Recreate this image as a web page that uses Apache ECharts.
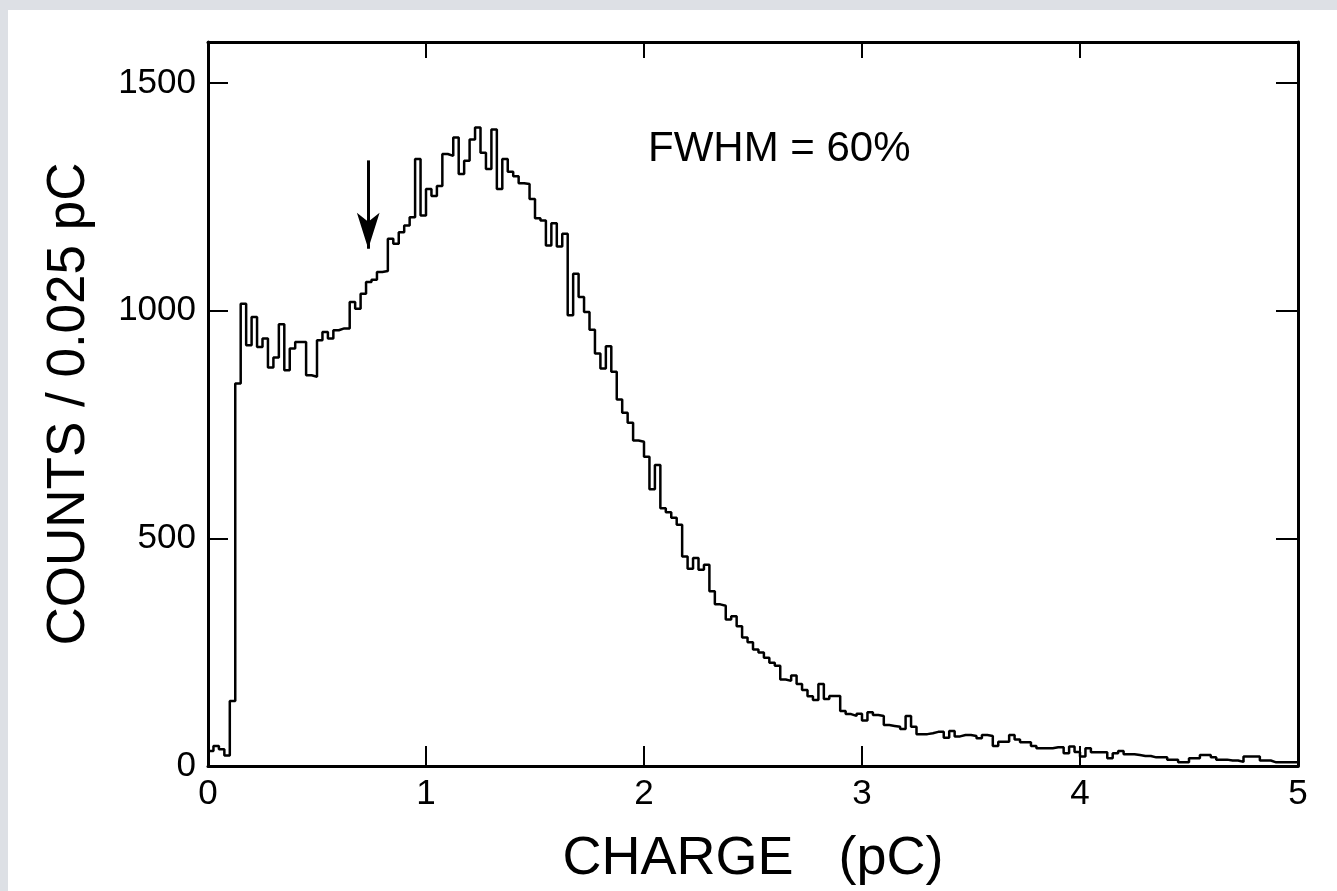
<!DOCTYPE html>
<html>
<head>
<meta charset="utf-8">
<script src="https://cdn.jsdelivr.net/npm/echarts@6/dist/echarts.min.js"></script>
<style>
  html, body { margin: 0; padding: 0; background: #dde0e5; }
  #paper { position: absolute; left: 8px; top: 10px; width: 1329px; height: 881px; background: #ffffff; }
  #chart { position: absolute; left: 0; top: 0; width: 1337px; height: 891px; }
</style>
</head>
<body>
<div id="paper"></div>
<div id="chart"></div>
<script>
// ---- data ----
const binWidth = 0.025;            // pC per bin
const counts = [
  33, 44, 37, 23, 143, 840, 1015, 924, 986, 920,
  939, 875, 897, 970, 869, 917, 931, 931, 858, 855,
  935, 953, 939, 957, 961, 961, 1019, 1004, 1037, 1063,
  1068, 1085, 1087, 1158, 1147, 1172, 1187, 1205, 1333, 1209,
  1267, 1252, 1274, 1344, 1340, 1380, 1300, 1329, 1376, 1402,
  1347, 1311, 1398, 1267, 1333, 1305, 1295, 1280, 1278, 1245,
  1203, 1198, 1143, 1192, 1141, 1169, 990, 1081, 1030, 997,
  958, 906, 873, 922, 866, 805, 776, 754, 715, 712,
  679, 608, 661, 566, 557, 545, 530, 460, 433, 457,
  431, 442, 384, 355, 352, 322, 329, 307, 282, 272,
  256, 249, 238, 227, 220, 190, 187, 199, 180, 167,
  153, 145, 180, 147, 154, 154, 121, 114, 110, 115,
  100, 118, 112, 110, 90, 88, 86, 81, 110, 86,
  70, 70, 72, 75, 75, 62, 77, 65, 68, 68,
  66, 61, 68, 66, 44, 53, 53, 68, 58, 52,
  52, 44, 39, 39, 39, 41, 41, 28, 43, 31,
  21, 39, 30, 30, 30, 17, 28, 33, 26, 26,
  24, 22, 22, 19, 19, 19, 14, 14, 8, 8,
  17, 17, 24, 24, 19, 14, 14, 12, 12, 9,
  21, 21, 21, 12, 12, 8, 8, 8, 8, 8
];
const xTickValues = [0, 1, 2, 3, 4, 5];
const yTickValues = [0, 500, 1000, 1500];
const xName = 'CHARGE   (pC)';
const yName = 'COUNTS / 0.025 pC';
const annotationText = 'FWHM = 60%';
const arrowX = 0.735;      // pC
const arrowTop = 1330;     // counts
const arrowTip = 1136;     // counts

// ---- build step series from bins ----
const histData = counts.map((c, i) => [+(i * binWidth).toFixed(3), c]);
histData.push([counts.length * binWidth, counts[counts.length - 1]]);

const tickFont = { fontFamily: '"Liberation Sans Narrow", "Liberation Sans", Arial, sans-serif', fontSize: 35, color: '#000' };
const frameLine = { show: true, onZero: false, lineStyle: { color: '#000', width: 3 } };

const chart = echarts.init(document.getElementById('chart'), null, { renderer: 'canvas' });
chart.setOption({
  animation: false,
  backgroundColor: 'transparent',
  grid: { left: 208, right: 39, top: 42, bottom: 124, containLabel: false },
  xAxis: [
    {
      type: 'value', min: xTickValues[0], max: xTickValues[xTickValues.length - 1], interval: 1,
      position: 'bottom',
      axisLine: frameLine,
      axisTick: { inside: true, length: 20, lineStyle: { color: '#000', width: 2 } },
      axisLabel: Object.assign({ margin: 11, formatter: v => String(v) }, tickFont),
      splitLine: { show: false },
      name: xName, nameLocation: 'middle', nameGap: 66,
      nameTextStyle: { fontFamily: '"Liberation Sans", Arial, sans-serif', fontSize: 54, color: '#000' }
    },
    {
      type: 'value', min: xTickValues[0], max: xTickValues[xTickValues.length - 1], interval: 1,
      position: 'top',
      axisLine: frameLine,
      axisTick: { inside: true, length: 16, lineStyle: { color: '#000', width: 2 } },
      axisLabel: { show: false },
      splitLine: { show: false }
    }
  ],
  yAxis: [
    {
      type: 'value', min: yTickValues[0], max: 1590, interval: 500,
      position: 'left',
      axisLine: frameLine,
      axisTick: { inside: true, length: 20, lineStyle: { color: '#000', width: 2 } },
      axisLabel: Object.assign({ margin: 12, showMaxLabel: false, formatter: v => String(v) }, tickFont),
      splitLine: { show: false },
      name: yName, nameLocation: 'middle', nameGap: 112, nameRotate: 90,
      nameTextStyle: { fontFamily: '"Liberation Sans", Arial, sans-serif', fontSize: 53, color: '#000' }
    },
    {
      type: 'value', min: yTickValues[0], max: 1590, interval: 500,
      position: 'right',
      axisLine: frameLine,
      axisTick: { inside: true, length: 22, lineStyle: { color: '#000', width: 2 } },
      axisLabel: { show: false },
      splitLine: { show: false }
    }
  ],
  graphic: [
    {
      type: 'text', left: 648, top: 128, silent: true,
      style: { text: annotationText, fontFamily: '"Liberation Sans", Arial, sans-serif', fontSize: 42, fill: '#000' }
    }
  ],
  series: [
    {
      type: 'line',
      step: 'end',
      data: histData,
      xAxisIndex: 0, yAxisIndex: 0,
      showSymbol: false,
      symbol: 'none',
      lineStyle: { color: '#000', width: 2.5 },
      silent: true,
      markLine: {
        silent: true,
        symbol: ['none', 'arrow'],
        symbolSize: [17, 36],
        label: { show: false },
        lineStyle: { color: '#000', width: 3, type: 'solid' },
        data: [[{ coord: [arrowX, arrowTop] }, { coord: [arrowX, arrowTip] }]]
      }
    }
  ]
});
</script>
</body>
</html>
